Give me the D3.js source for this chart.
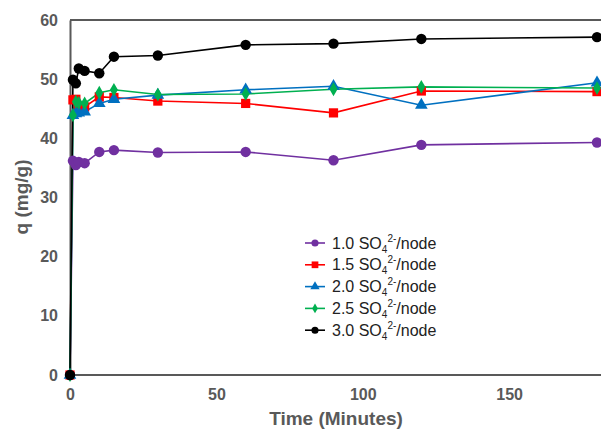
<!DOCTYPE html>
<html><head><meta charset="utf-8">
<script src="https://cdn.jsdelivr.net/npm/d3@7"></script>
<style>body{margin:0;background:#fff}svg{display:block}</style>
</head><body>
<script>
const times = [0, 1, 2, 3, 5, 10, 15, 30, 60, 90, 120, 180];
const s10 = [0, 36.2, 35.5, 36.0, 35.8, 37.7, 38.0, 37.6, 37.7, 36.3, 38.9, 39.3];
const s15 = [0, 46.5, 46.6, 45.4, 45.3, 47.0, 46.9, 46.3, 45.9, 44.3, 48.0, 47.9];
const s20 = [0, 43.9, 44.2, 44.3, 44.5, 45.9, 46.6, 47.3, 48.2, 48.8, 45.6, 49.4];
const s25 = [0, 43.9, 46.2, 46.0, 45.9, 47.7, 48.2, 47.4, 47.5, 48.3, 48.7, 48.5];
const s30 = [0, 49.9, 49.3, 51.8, 51.4, 51.0, 53.8, 54.0, 55.8, 56.0, 56.8, 57.1];
const labels = ["1.0", "1.5", "2.0", "2.5", "3.0"];
const xTicks = [0, 50, 100, 150];
const yTicks = [0, 10, 20, 30, 40, 50, 60];

const series = [
  {name: labels[0], vals: s10, color: "#7030A0", sym: d3.symbolCircle, size: 85, lsize: 40},
  {name: labels[1], vals: s15, color: "#FF0000", sym: d3.symbolSquare, size: 85, lsize: 45},
  {name: labels[2], vals: s20, color: "#0070C0", sym: d3.symbolTriangle, size: 70, lsize: 38},
  {name: labels[3], vals: s25, color: "#00B050", sym: d3.symbolDiamond, size: 55, lsize: 28},
  {name: labels[4], vals: s30, color: "#000000", sym: d3.symbolCircle, size: 85, lsize: 40}
];

const W = 601, H = 429;
const m = {l: 70, r: 4, t: 20, b: 54};
const font = "Liberation Sans, Arial, sans-serif";
const svg = d3.select("body").append("svg").attr("width", W).attr("height", H);
const x = d3.scaleLinear().domain([0, 180]).range([m.l, 597]);
const y = d3.scaleLinear().domain([0, 60]).range([H - m.b, m.t]);

const axisColor = "#595959";
svg.append("line").attr("x1", m.l).attr("x2", W).attr("y1", m.t).attr("y2", m.t)
  .attr("stroke", axisColor).attr("stroke-width", 2);

const xAxis = svg.append("g").attr("transform", `translate(0,${H - m.b})`)
  .call(d3.axisBottom(x).tickValues(xTicks).tickSize(0).tickPadding(14));
xAxis.select(".domain").attr("d", `M${m.l},0H${W}`).attr("stroke", axisColor).attr("stroke-width", 2);
const yAxis = svg.append("g").attr("transform", `translate(${m.l},0)`)
  .call(d3.axisLeft(y).tickValues(yTicks).tickSize(0).tickPadding(12));
yAxis.select(".domain").attr("stroke", axisColor).attr("stroke-width", 2);
svg.selectAll(".tick text").attr("font-family", font)
  .attr("font-size", 16).attr("font-weight", "bold").attr("fill", "#595959");

svg.append("text").attr("x", 336).attr("y", 425).attr("text-anchor", "middle")
  .attr("font-family", font).attr("font-size", 19)
  .attr("font-weight", "bold").attr("fill", "#595959").text("Time (Minutes)");
svg.append("text").attr("transform", "translate(28,197) rotate(-90)").attr("text-anchor", "middle")
  .attr("font-family", font).attr("font-size", 19)
  .attr("font-weight", "bold").attr("fill", "#595959").text("q (mg/g)");

const line = d3.line().x((d, i) => x(times[i])).y(d => y(d));
series.forEach(s => {
  svg.append("path").datum(s.vals).attr("d", line).attr("fill", "none")
    .attr("stroke", s.color).attr("stroke-width", 1.6);
});
series.forEach(s => {
  svg.append("g").selectAll("path").data(s.vals).join("path")
    .attr("transform", (d, i) => `translate(${x(times[i])},${y(d)})`)
    .attr("d", d3.symbol().type(s.sym).size(s.size)).attr("fill", s.color);
});

const lg = svg.append("g").attr("transform", "translate(305,243)");
series.forEach((s, i) => {
  const g = lg.append("g").attr("transform", `translate(0,${i * 21.8})`);
  g.append("line").attr("x1", 0).attr("x2", 20).attr("stroke", s.color).attr("stroke-width", 1.6);
  g.append("path").attr("transform", "translate(10,0)").attr("d", d3.symbol().type(s.sym).size(s.lsize)).attr("fill", s.color);
  const t = g.append("text").attr("x", 27).attr("y", 5.5).attr("font-family", font)
    .attr("font-size", 16).attr("fill", "#222");
  t.append("tspan").text(s.name + " SO");
  t.append("tspan").attr("font-size", 10).attr("dy", 4).text("4");
  t.append("tspan").attr("font-size", 10).attr("dy", -11).text("2-");
  t.append("tspan").attr("dy", 7).text("/node");
});
</script>
</body></html>
